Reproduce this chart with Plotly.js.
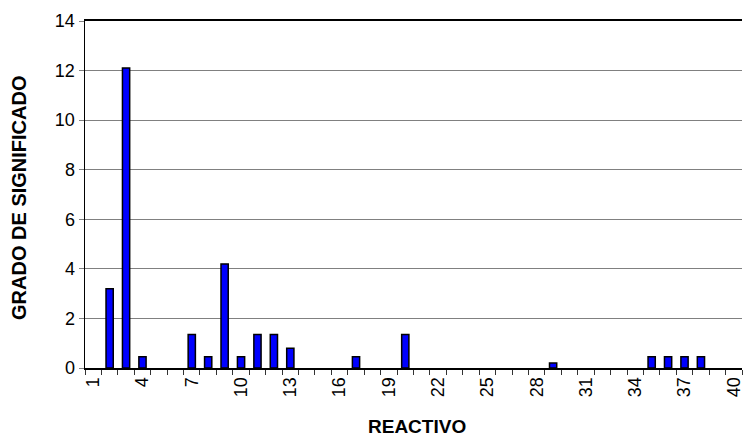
<!DOCTYPE html>
<html>
<head>
<meta charset="utf-8">
<script src="https://cdn.plot.ly/plotly-3.0.1.min.js"></script>
<style>html,body{margin:0;padding:0;background:#fff;}#chart{width:744px;height:436px;}</style>
</head>
<body>
<div id="chart"></div>
<script>
const reactivo = [2, 3, 4, 7, 8, 9, 10, 11, 12, 13, 17, 20, 29, 35, 36, 37, 38];
const grado = [3.2, 12.1, 0.45, 1.35, 0.45, 4.2, 0.45, 1.35, 1.35, 0.8, 0.45, 1.35, 0.2, 0.45, 0.45, 0.45, 0.45];
const tickValues = [1, 4, 7, 10, 13, 16, 19, 22, 25, 28, 31, 34, 37, 40];
const tickLabels = tickValues.map(String);
const xTitle = "REACTIVO";
const yTitle = "GRADO DE SIGNIFICADO";

const font = "Liberation Sans, Arial, sans-serif";

Plotly.newPlot("chart", [{
  type: "bar",
  x: reactivo,
  y: grado,
  marker: {color: "#0000FF", line: {color: "#000000", width: 1.5}},
  hoverinfo: "x+y"
}], {
  width: 744, height: 436,
  margin: {l: 85, r: 2, t: 21, b: 68},
  paper_bgcolor: "#fff", plot_bgcolor: "#fff",
  bargap: 0.56,
  showlegend: false,
  font: {family: font, color: "#000", size: 18},
  xaxis: {
    range: [0.5, 40.5],
    tickmode: "array", tickvals: tickValues, ticktext: tickLabels,
    tickangle: -90,
    ticks: "", showgrid: false, zeroline: false,
    showline: true, linecolor: "#000", linewidth: 2, mirror: true,
    tickfont: {size: 18, family: font},
    minor: {tickmode: "linear", tick0: 0.5, dtick: 1, ticks: "outside", ticklen: 5, tickcolor: "#333", tickwidth: 1, showgrid: false}
  },
  yaxis: {
    range: [0, 14], dtick: 2, tick0: 0,
    ticks: "outside", ticklen: 5, tickcolor: "#808080",
    showgrid: true, gridcolor: "#808080", gridwidth: 1,
    zeroline: false,
    showline: true, linecolor: "#000", linewidth: 1.5,
    tickfont: {size: 18, family: font}
  },
  annotations: [{
    text: "<b>" + yTitle + "</b>",
    xref: "paper", yref: "paper",
    x: -0.1005, y: 0.49, xanchor: "center", yanchor: "middle",
    textangle: -90, showarrow: false,
    font: {size: 20, family: font, color: "#000"}
  }, {
    text: "<b>" + xTitle + "</b>",
    xref: "paper", yref: "paper",
    x: 0.505, y: -0.17, xanchor: "center", yanchor: "middle",
    showarrow: false,
    font: {size: 19, family: font, color: "#000"}
  }]
}, {displayModeBar: false, staticPlot: true});
</script>
</body>
</html>
